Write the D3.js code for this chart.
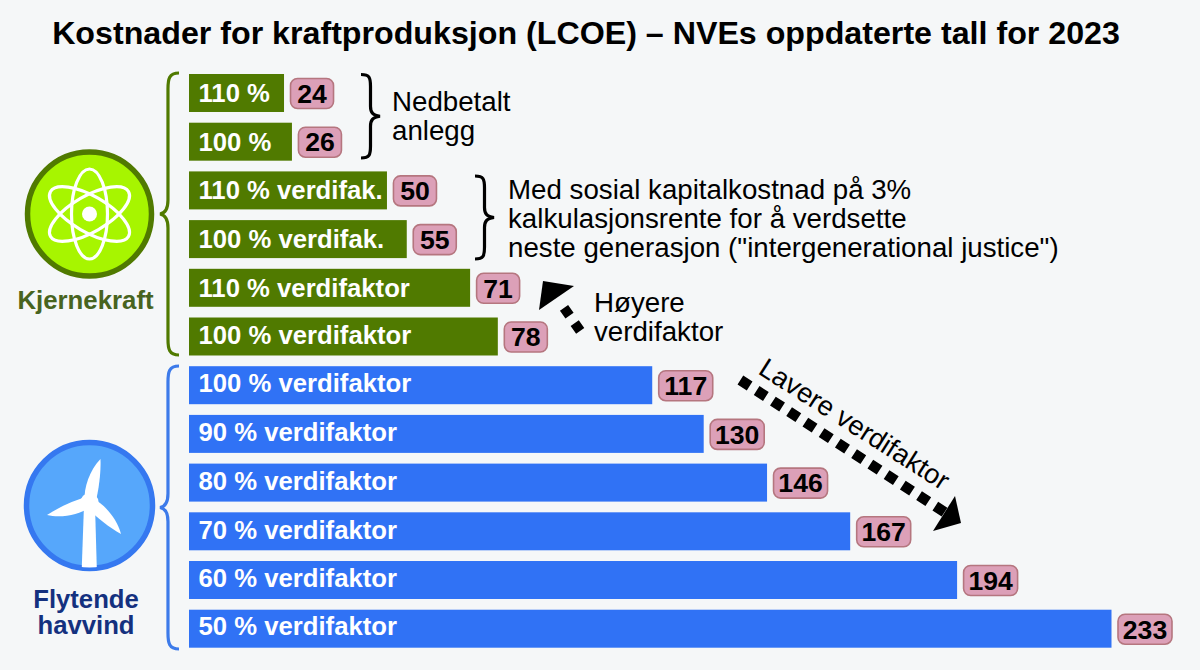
<!DOCTYPE html>
<html><head><meta charset="utf-8">
<script src="https://cdn.jsdelivr.net/npm/d3@7/dist/d3.min.js"></script>
<style>html,body{margin:0;padding:0;background:#f5f7f8}svg{display:block}text{font-family:"Liberation Sans",Arial,sans-serif}</style>
</head><body>
<svg id="c" width="1200" height="670"></svg>
<script>
const titleText = "Kostnader for kraftproduksjon (LCOE) – NVEs oppdaterte tall for 2023";
const nuclearLabels = ["110 %","100 %","110 % verdifak.","100 % verdifak.","110 % verdifaktor","100 % verdifaktor"];
const nuclearValues = [24,26,50,55,71,78];
const windLabels = ["100 % verdifaktor","90 % verdifaktor","80 % verdifaktor","70 % verdifaktor","60 % verdifaktor","50 % verdifaktor"];
const windValues = [117,130,146,167,194,233];
const GREEN="#507a00", BLUE="#3072f5";

const rows = [
  ...nuclearLabels.map((l,i)=>({label:l,value:nuclearValues[i],color:GREEN})),
  ...windLabels.map((l,i)=>({label:l,value:windValues[i],color:BLUE}))
];
const labelNudge = [2,2,1.5,1,2,0,-1,0,0,0,-1,-1];
const svg = d3.select("#c");
svg.append("rect").attr("width",1200).attr("height",670).attr("fill","#f5f7f8");

const x = d3.scaleLinear().domain([0,233]).range([189,1111.5]);
const y = d3.scaleBand().domain(d3.range(rows.length)).range([74,647.7]).paddingInner(0.22).paddingOuter(0);

svg.append("text").attr("x",586).attr("y",43.5).attr("text-anchor","middle")
  .attr("font-size",32.2).attr("font-weight",700).attr("fill","#000").text(titleText);

const g = svg.selectAll("g.row").data(rows).join("g").attr("class","row");
g.append("rect").attr("x",x(0)).attr("y",(d,i)=>y(i)).attr("height",y.bandwidth())
  .attr("width",d=>x(d.value)-x(0)).attr("fill",d=>d.color);
g.append("text").attr("x",x(0)+9.5).attr("y",(d,i)=>y(i)+y.bandwidth()/2+7.5+labelNudge[i])
  .attr("font-size",25.7).attr("font-weight",700).attr("fill","#fff").text(d=>d.label);
const pillW = d=> d.value>=100?54:43;
g.append("rect").attr("x",d=>x(d.value)+6.5).attr("y",(d,i)=>y(i)+y.bandwidth()/2-14.5)
  .attr("width",pillW).attr("height",30).attr("rx",7)
  .attr("fill","#dca0b8").attr("stroke","#b5767f").attr("stroke-width",1.6);
g.append("text").attr("x",d=>x(d.value)+6.5+pillW(d)/2).attr("y",(d,i)=>y(i)+y.bandwidth()/2+9.8)
  .attr("text-anchor","middle").attr("font-size",26.6).attr("font-weight",700).attr("fill","#000").text(d=>d.value);

// curly braces
function leftBrace(tipX,top,bottom,w){
  const mid=(top+bottom)/2, sx=tipX+w*0.42, ex=tipX+w;
  return `M${ex},${top} C${sx+1},${top} ${sx},${top+6} ${sx},${top+16} L${sx},${mid-14} C${sx},${mid-6} ${sx-2},${mid-1} ${tipX},${mid} C${sx-2},${mid+1} ${sx},${mid+6} ${sx},${mid+14} L${sx},${bottom-16} C${sx},${bottom-6} ${sx+1},${bottom} ${ex},${bottom}`;
}
function rightBrace(tipX,top,bottom,w){
  const mid=(top+bottom)/2, sx=tipX-w*0.5, ex=tipX-w;
  return `M${ex},${top} C${sx-1},${top} ${sx},${top+3} ${sx},${top+12} L${sx},${mid-10} C${sx},${mid-4} ${sx+2},${mid-1} ${tipX},${mid} C${sx+2},${mid+1} ${sx},${mid+4} ${sx},${mid+10} L${sx},${bottom-12} C${sx},${bottom-3} ${sx-1},${bottom} ${ex},${bottom}`;
}
svg.append("path").attr("d",leftBrace(160,73,355,19)).attr("fill","none").attr("stroke",GREEN).attr("stroke-width",3.2);
svg.append("path").attr("d",leftBrace(160,366,649,19)).attr("fill","none").attr("stroke","#3d7bea").attr("stroke-width",3.2);
svg.append("path").attr("d",rightBrace(380,74.5,158,19)).attr("fill","none").attr("stroke","#000").attr("stroke-width",3.2);
svg.append("path").attr("d",rightBrace(494,176,259,19)).attr("fill","none").attr("stroke","#000").attr("stroke-width",3.2);

// annotations
const annoFont=27.7;
function lines(px,baselines,strs){
  strs.forEach((s,i)=>svg.append("text").attr("x",px).attr("y",baselines[i]).attr("font-size",annoFont).attr("fill","#000").text(s));
}
lines(392,[111,140],["Nedbetalt","anlegg"]);
lines(508,[199,228,257],["Med sosial kapitalkostnad på 3%","kalkulasjonsrente for å verdsette",'neste generasjon ("intergenerational justice")']);
lines(594,[312,341],["Høyere","verdifaktor"]);
svg.append("text").attr("transform","translate(757,373) rotate(32.5)").attr("font-size",27.4).attr("fill","#000").text("Lavere verdifaktor");

// dotted arrows
svg.append("line").attr("x1",580.2).attr("y1",330.8).attr("x2",564).attr("y2",307.9)
  .attr("stroke","#000").attr("stroke-width",10).attr("stroke-dasharray","9.5 9");
svg.append("polygon").attr("points","539,310 543,281 574,286").attr("fill","#000");
svg.append("line").attr("x1",740.4).attr("y1",380).attr("x2",945).attr("y2",512.5)
  .attr("stroke","#000").attr("stroke-width",10.5).attr("stroke-dasharray","11 8.35");
svg.append("polygon").attr("points","955,496 961,523 933,531").attr("fill","#000");

// nuclear icon
const atom = svg.append("g").attr("transform","translate(89.5,214)");
atom.append("circle").attr("r",62).attr("fill","#a7f500").attr("stroke",GREEN).attr("stroke-width",5.5);
[0,60,-60].forEach(a=>atom.append("ellipse").attr("rx",18).attr("ry",45).attr("transform",`rotate(${a})`)
  .attr("fill","none").attr("stroke","#fff").attr("stroke-width",3.2));
atom.append("circle").attr("r",7.5).attr("fill","#fff");
svg.append("text").attr("x",85.5).attr("y",309).attr("text-anchor","middle").attr("font-size",25.8).attr("font-weight",700).attr("fill","#48641f").text("Kjernekraft");

// wind icon
const wind = svg.append("g");
wind.append("clipPath").attr("id","wclip").append("circle").attr("cx",89.5).attr("cy",505.5).attr("r",62);
wind.append("circle").attr("cx",89.5).attr("cy",505.5).attr("r",63).attr("fill","#56a7fb").attr("stroke","#3578f0").attr("stroke-width",5.5);
wind.append("path").attr("clip-path","url(#wclip)").attr("d","M84,505 L95,505 L97,575 L81.5,575 Z").attr("fill","#fff");
const hub=[89.5,502];
[[100.5,459],[47,515],[121,534]].forEach(tip=>{
  const dx=tip[0]-hub[0],dy=tip[1]-hub[1],len=Math.hypot(dx,dy),a=Math.atan2(dy,dx)*180/Math.PI;
  wind.append("path").attr("transform",`translate(${hub}) rotate(${a})`).attr("fill","#fff")
    .attr("d",`M0,-5 C${len*.25},-9 ${len*.7},-8 ${len},0 C${len*.7},4 ${len*.3},6 0,6 Z`);
});
wind.append("circle").attr("cx",hub[0]).attr("cy",hub[1]).attr("r",9).attr("fill","#fff");
["Flytende","havvind"].forEach((s,i)=>svg.append("text").attr("x",86).attr("y",[608,634][i]).attr("text-anchor","middle")
  .attr("font-size",25.7).attr("font-weight",700).attr("fill","#14317f").text(s));
</script>
</body></html>
